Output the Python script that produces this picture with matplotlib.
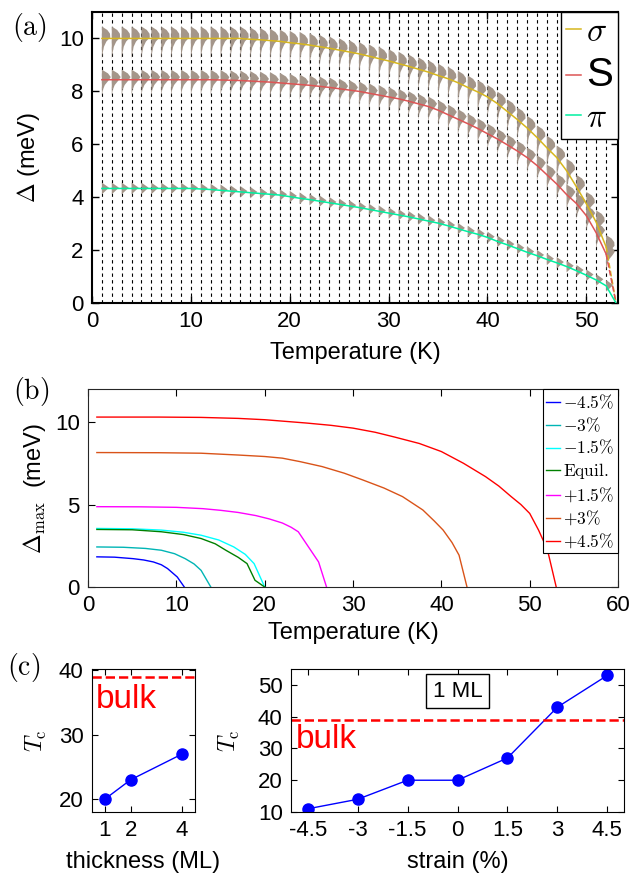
import numpy as np
import matplotlib
matplotlib.use('Agg')
import matplotlib.pyplot as plt

plt.rcParams['font.family'] = ['Liberation Sans', 'DejaVu Sans']
plt.rcParams['mathtext.fontset'] = 'cm'

# ---- panel (a): band gaps vs temperature (1 K grid, last point = Tc) ----
temps_a = list(range(1, 54))
gap_sigma = [10.0] * 15 + [9.97, 9.95, 9.92, 9.89, 9.84, 9.80, 9.75, 9.69, 9.63, 9.56,
                           9.49, 9.42, 9.33, 9.24, 9.15, 9.05, 8.95, 8.84, 8.73, 8.60,
                           8.48, 8.33, 8.15, 7.98, 7.79, 7.54, 7.24, 6.94, 6.62, 6.26,
                           5.87, 5.50, 5.00, 4.39, 3.75, 3.05, 2.12, 0.0]
gap_s = [8.44] * 12 + [8.43, 8.42, 8.41, 8.39, 8.37, 8.35, 8.32, 8.29, 8.26, 8.23,
                       8.19, 8.15, 8.10, 8.05, 8.00, 7.93, 7.86, 7.79, 7.72, 7.63,
                       7.53, 7.43, 7.29, 7.12, 6.95, 6.78, 6.60, 6.40, 6.20, 5.98,
                       5.75, 5.50, 5.20, 4.85, 4.50, 4.10, 3.76, 3.30, 2.65, 1.85, 0.0]
gap_pi = [4.33] * 10 + [4.31, 4.29, 4.26, 4.23, 4.20, 4.17, 4.14, 4.11, 4.08, 4.02,
                        3.96, 3.91, 3.85, 3.79, 3.73, 3.67, 3.61, 3.54, 3.47, 3.40,
                        3.33, 3.26, 3.18, 3.10, 3.02, 2.92, 2.81, 2.70, 2.60, 2.48,
                        2.33, 2.20, 2.06, 1.92, 1.79, 1.65, 1.52, 1.38, 1.22, 1.05,
                        0.87, 0.65, 0.0]

# gap distribution outline (offset from band gap in meV, width in K)
sigma_dy = [0.45, 0.32, 0.18, 0.04, -0.12, -0.32, -0.55, -0.78]
sigma_w = [0.0, 0.55, 0.82, 0.85, 0.45, 0.20, 0.08, 0.0]
s_dy = [0.38, 0.24, 0.10, -0.04, -0.20, -0.38, -0.60]
s_w = [0.0, 0.62, 0.90, 0.65, 0.30, 0.10, 0.0]
pi_dy = [0.22, 0.03, -0.22]
pi_w = [0.0, 0.72, 0.0]

# ---- panel (b): max gap vs temperature for each strain ----
strain_labels = [r'$-4.5\%$', r'$-3\%$', r'$-1.5\%$', r'$\mathrm{Equil.}$',
                 r'$+1.5\%$', r'$+3\%$', r'$+4.5\%$']
strain_colors = ['#0000ff', '#00b5b5', '#00ffff', '#008000', '#ff00ff', '#d95319', '#ff0000']
t_m45 = [1, 3, 5.1, 6.3, 7.4, 8.3, 9.0, 10.1, 10.9]
d_m45 = [1.83, 1.81, 1.72, 1.64, 1.52, 1.35, 1.12, 0.61, 0.0]
t_m3 = [1, 4, 6.5, 8.3, 9.8, 11.0, 12.0, 12.8, 13.9]
d_m3 = [2.43, 2.41, 2.34, 2.23, 2.02, 1.72, 1.40, 1.01, 0.0]
t_m15 = [1, 5, 8.3, 10.8, 12.8, 14.8, 16.5, 17.8, 18.8, 20.0]
d_m15 = [3.55, 3.53, 3.45, 3.32, 3.14, 2.85, 2.43, 1.98, 1.42, 0.0]
t_eq = [1, 5, 8.3, 10.8, 12.8, 14.4, 15.6, 17.0, 18.0, 18.9, 20.0]
d_eq = [3.49, 3.47, 3.35, 3.18, 2.94, 2.62, 2.23, 1.80, 1.42, 0.41, 0.0]
t_p15 = [1, 6, 10, 13, 15, 17, 19, 20.5, 22, 23, 23.8, 26.1, 27.0]
d_p15 = [4.87, 4.86, 4.83, 4.75, 4.65, 4.52, 4.33, 4.13, 3.88, 3.62, 3.35, 1.52, 0.0]
t_p3 = [1, 8, 12.8, 17, 20, 22, 24, 26.5, 29, 31.1, 33.5, 35.6, 37.9, 39.2, 40.2, 41.2, 42.0, 42.9]
d_p3 = [8.15, 8.14, 8.11, 8.00, 7.91, 7.81, 7.60, 7.30, 6.90, 6.49, 6.00, 5.48, 4.67, 4.00, 3.45, 2.70, 1.93, 0.0]
t_p45 = [1, 8, 12.8, 17, 20, 24.7, 27.5, 30, 32.5, 34.7, 37.5, 40, 42.5, 45, 46.5, 47.9, 49, 50, 51, 52, 53]
d_p45 = [10.30, 10.30, 10.28, 10.22, 10.14, 9.94, 9.80, 9.63, 9.38, 9.09, 8.70, 8.21, 7.50, 6.69,
         6.12, 5.48, 5.00, 4.46, 3.45, 2.27, 0.0]

# ---- panel (c): Tc ----
thickness = [1, 2, 4]
tc_thick = [20, 23, 27]
strain = [-4.5, -3, -1.5, 0, 1.5, 3, 4.5]
strain_ticklabels = ['-4.5', '-3', '-1.5', '0', '1.5', '3', '4.5']
tc_strain = [11, 14, 20, 20, 27, 43, 53]
tc_bulk = 39

TICK = 16
LAB = 17

fig = plt.figure(figsize=(6.31, 8.75), dpi=100)

# (a)
ax = fig.add_axes([0.1458, 0.6537, 0.8336, 0.3326])
for t in temps_a[:-1]:
    ax.axvline(t, color='black', linestyle=(0, (3, 3)), linewidth=0.8, zorder=1)
hist_color = '#a4968a'
for t, gs, gss, gp in zip(temps_a[:-1], gap_sigma, gap_s, gap_pi):
    ax.fill([t + w for w in sigma_w], [gs + d for d in sigma_dy], color=hist_color, lw=0, zorder=2)
    ax.fill([t + w for w in s_w], [gss + d for d in s_dy], color=hist_color, lw=0, zorder=2)
    ax.fill([t + w for w in pi_w], [gp + d for d in pi_dy], color=hist_color, lw=0, zorder=2)

c_sig, c_s, c_pi = '#d6b61e', '#dd5555', '#00f0a0'
l1, = ax.plot(temps_a[:-1], gap_sigma[:-1], color=c_sig, lw=1.1, zorder=3)
ax.plot(temps_a[-2:], gap_sigma[-2:], color=c_sig, lw=1.1, ls='--', zorder=3)
l2, = ax.plot(temps_a[:-1], gap_s[:-1], color=c_s, lw=1.1, zorder=3)
ax.plot(temps_a[-2:], gap_s[-2:], color=c_s, lw=1.1, ls='--', zorder=3)
l3, = ax.plot(temps_a, gap_pi, color=c_pi, lw=1.1, zorder=3)
ax.set_xlim(0, 53.2)
ax.set_ylim(0, 11)
ax.set_xticks([0, 10, 20, 30, 40, 50])
ax.set_yticks([0, 2, 4, 6, 8, 10])
ax.set_xlabel('Temperature (K)', fontsize=LAB, labelpad=7)
ax.set_ylabel(r'$\Delta$ (meV)', fontsize=LAB)
ax.yaxis.set_label_coords(-0.095, 0.5)
leg = ax.legend([l1, l2, l3], [r'$\sigma$', 'S', r'$\pi$'], loc='upper right',
                fontsize=24, frameon=True, fancybox=False, edgecolor='black',
                framealpha=1, borderaxespad=0, handlelength=0.45, handletextpad=0.15,
                labelspacing=0.25, borderpad=0.15)
leg.get_texts()[1].set_fontsize(29)
leg.get_frame().set_linewidth(1.0)
for sp in ax.spines.values():
    sp.set_linewidth(1.5)
ax.tick_params(direction='in', top=True, right=True, labelsize=TICK, length=5, width=1, pad=6)
fig.text(0.047, 0.969, r'$(\mathrm{a})$', fontsize=20, ha='center', va='center')

# (b)
ax = fig.add_axes([0.1395, 0.3291, 0.840, 0.2263])
curves_b = [(t_m45, d_m45), (t_m3, d_m3), (t_m15, d_m15), (t_eq, d_eq),
            (t_p15, d_p15), (t_p3, d_p3), (t_p45, d_p45)]
for (tt, dd), col, lab in zip(curves_b, strain_colors, strain_labels):
    ax.plot(tt, dd, color=col, lw=1.0, label=lab)
ax.set_xlim(0, 60)
ax.set_ylim(0, 12)
ax.set_xticks([0, 10, 20, 30, 40, 50, 60])
ax.set_yticks([0, 5, 10])
ax.set_xlabel('Temperature (K)', fontsize=LAB, labelpad=4)
ax.set_ylabel(r'$\Delta_{\mathrm{max}}$  (meV)', fontsize=LAB)
ax.yaxis.set_label_coords(-0.075, 0.5)
leg = ax.legend(loc='upper right', fontsize=12.5, frameon=True, fancybox=False,
                edgecolor='black', framealpha=1, borderaxespad=0, handlelength=0.8,
                handletextpad=0.2, labelspacing=0.25, borderpad=0.2)
leg.get_frame().set_linewidth(0.8)
for sp in ax.spines.values():
    sp.set_color('#262626')
ax.tick_params(direction='in', top=True, right=True, labelsize=TICK, length=5, pad=6)
fig.text(0.049, 0.552, r'$(\mathrm{b})$', fontsize=20, ha='center', va='center')

# (c) left
ax = fig.add_axes([0.1458, 0.0720, 0.1632, 0.1634])
ax.plot(thickness, tc_thick, color='#0000ff', lw=1.0, marker='o', markersize=8)
ax.axhline(tc_bulk, color='red', ls='--', lw=1.8)
ax.text(0.65, 34.1, 'bulk', color='red', fontsize=24)
ax.set_xlim(0.5, 4.5)
ax.set_ylim(18, 40.2)
ax.set_xticks(thickness)
ax.set_yticks([20, 30, 40])
ax.set_xlabel('thickness (ML)', fontsize=LAB, labelpad=7)
ax.set_ylabel(r'$T_{\mathrm{c}}$', fontsize=LAB)
ax.yaxis.set_label_coords(-0.42, 0.5)
ax.tick_params(direction='in', top=True, right=True, labelsize=TICK, length=4, pad=6)
fig.text(0.038, 0.237, r'$(\mathrm{c})$', fontsize=20, ha='center', va='center')

# (c) right
ax = fig.add_axes([0.4612, 0.0720, 0.5277, 0.1634])
ax.plot(strain, tc_strain, color='#0000ff', lw=1.0, marker='o', markersize=8)
ax.axhline(tc_bulk, color='red', ls='--', lw=1.8)
ax.text(-4.86, 30.1, 'bulk', color='red', fontsize=24)
ax.text(0.0, 48, '1 ML', fontsize=16, ha='center', va='center',
        bbox=dict(boxstyle='square,pad=0.3', facecolor='white', edgecolor='black', lw=1))
ax.set_xlim(-5, 5)
ax.set_ylim(10, 55)
ax.set_xticks(strain)
ax.set_xticklabels(strain_ticklabels)
ax.set_yticks([10, 20, 30, 40, 50])
ax.set_xlabel('strain (%)', fontsize=LAB, labelpad=7)
ax.set_ylabel(r'$T_{\mathrm{c}}$', fontsize=LAB)
ax.yaxis.set_label_coords(-0.147, 0.5)
ax.tick_params(direction='in', top=True, right=True, labelsize=TICK, length=4, pad=6)

fig.savefig('out.png', dpi=100)
